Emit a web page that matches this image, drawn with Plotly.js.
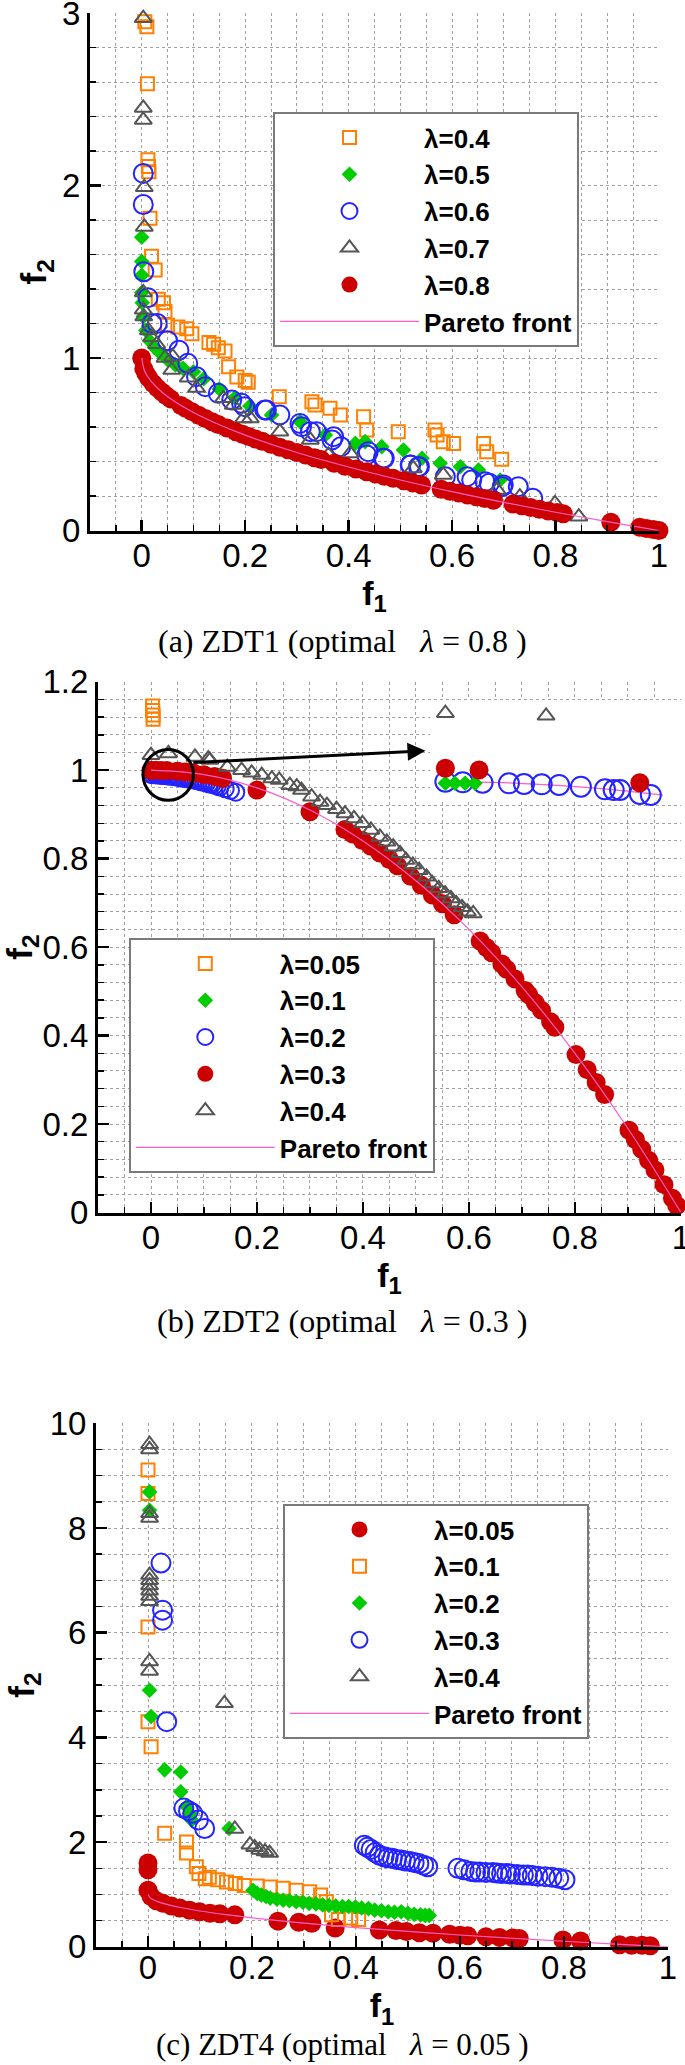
<!DOCTYPE html>
<html><head><meta charset="utf-8">
<script src="https://cdn.plot.ly/plotly-3.0.1.min.js"></script>
<style>html,body{margin:0;padding:0;background:#fff;overflow:hidden}#chart{width:685px;height:2065px}</style>
</head><body><div id="chart"></div>
<script>
// ---------- (a) ZDT1 ----------
const zdt1Labels = ["λ=0.4","λ=0.5","λ=0.6","λ=0.7","λ=0.8"];
const zdt1_l04_f1 = [0.006,0.01,0.011,0.012,0.013,0.014,0.016,0.019,0.026,0.032,0.042,0.045,0.05,0.07,0.087,0.097,0.13,0.139,0.148,0.161,0.168,0.184,0.2,0.206,0.266,0.329,0.335,0.364,0.384,0.429,0.435,0.496,0.567,0.571,0.583,0.603,0.661,0.667,0.696];
const zdt1_l04_f2 = [2.95,2.92,2.59,2.15,2.11,2.08,1.81,1.59,1.51,1.34,1.32,1.27,1.19,1.18,1.17,1.14,1.09,1.08,1.06,1.04,0.95,0.89,0.87,0.86,0.776,0.747,0.728,0.708,0.67,0.66,0.583,0.573,0.583,0.554,0.515,0.505,0.505,0.457,0.413];
const zdt1_l05_f1 = [0.0,0.0,0.0,0.0,0.001,0.003,0.008,0.015,0.025,0.035,0.05,0.065,0.08,0.1,0.12,0.15,0.18,0.209,0.251,0.306,0.355,0.413,0.432,0.464,0.506,0.542,0.577,0.616,0.651,0.693];
const zdt1_l05_f2 = [1.70,1.56,1.48,1.38,1.32,1.24,1.16,1.1,1.06,1.03,0.99,0.96,0.94,0.92,0.88,0.82,0.77,0.722,0.67,0.631,0.554,0.505,0.515,0.486,0.467,0.419,0.39,0.37,0.351,0.293];
const zdt1_l06_f1 = [0.003,0.003,0.004,0.012,0.02,0.03,0.05,0.072,0.089,0.106,0.123,0.148,0.174,0.193,0.199,0.238,0.241,0.267,0.306,0.309,0.326,0.338,0.368,0.371,0.385,0.435,0.438,0.467,0.469,0.519,0.52,0.535,0.537,0.587,0.629,0.638,0.664,0.672,0.697,0.699,0.728,0.756];
const zdt1_l06_f2 = [2.07,1.89,1.50,1.35,1.2,1.2,1.1,1.045,0.969,0.892,0.834,0.795,0.757,0.737,0.718,0.699,0.699,0.67,0.621,0.602,0.573,0.573,0.525,0.544,0.486,0.438,0.457,0.419,0.419,0.38,0.38,0.37,0.37,0.312,0.312,0.293,0.283,0.274,0.254,0.264,0.254,0.187];
const zdt1_l07_f1 = [0.003,0.003,0.003,0.005,0.005,0.003,0.003,0.004,0.013,0.019,0.029,0.045,0.058,0.06,0.09,0.106,0.158,0.177,0.197,0.21,0.267,0.326,0.361,0.403,0.525,0.583,0.687,0.731,0.799,0.845];
const zdt1_l07_f2 = [2.97,2.45,2.38,1.99,1.76,1.38,1.28,1.24,1.16,1.12,1.08,1.0,0.93,1.008,0.886,0.826,0.766,0.727,0.65,0.65,0.573,0.525,0.438,0.447,0.36,0.322,0.235,0.196,0.157,0.08];
const zdt1_l08_f1 = [0,0.004,0.008,0.0135,0.022,0.03,0.039,0.047,0.056,0.076,0.085,0.097,0.11,0.123,0.136,0.148,0.165,0.182,0.195,0.207,0.22,0.233,0.25,0.267,0.283,0.3,0.317,0.334,0.347,0.372,0.393,0.414,0.435,0.452,0.469,0.486,0.507,0.524,0.541,0.579,0.596,0.613,0.63,0.647,0.663,0.68,0.718,0.735,0.752,0.769,0.786,0.803,0.815,0.907,0.963,0.976,0.989,1.0];
const zdt1_l08_f2 = [1.0,0.937,0.911,0.884,0.852,0.827,0.803,0.783,0.763,0.724,0.708,0.689,0.668,0.649,0.631,0.615,0.594,0.573,0.558,0.545,0.531,0.517,0.5,0.483,0.468,0.452,0.437,0.422,0.411,0.39,0.373,0.357,0.34,0.328,0.315,0.303,0.288,0.276,0.264,0.239,0.228,0.217,0.206,0.196,0.186,0.175,0.153,0.143,0.133,0.123,0.113,0.104,0.097,0.048,0.019,0.012,0.006,0.0];
const zdt1_pf_f1 = [0,0.005,0.01,0.02,0.04,0.06,0.1,0.15,0.2,0.3,0.4,0.5,0.6,0.7,0.8,0.9,1.0];
const zdt1_pf_f2 = [1,0.929,0.9,0.859,0.8,0.755,0.684,0.613,0.553,0.452,0.368,0.293,0.225,0.163,0.106,0.051,0];

// ---------- (b) ZDT2 ----------
const zdt2Labels = ["λ=0.05","λ=0.1","λ=0.2","λ=0.3","λ=0.4"];
const zdt2_l005_f1 = [0.003,0.003,0.004,0.004];
const zdt2_l005_f2 = [1.145,1.135,1.125,1.115];
const zdt2_l01_f1 = [0.0,0.005,0.01,0.015];
const zdt2_l01_f2 = [0.99,0.99,0.99,0.99];
const zdt2_l02_f1 = [0,0.004,0.008,0.012,0.016,0.02,0.024,0.028,0.032,0.036,0.04,0.045,0.05,0.055,0.06,0.065,0.07,0.075,0.08,0.085,0.09,0.095,0.1,0.105,0.11,0.115,0.12,0.125,0.13,0.14,0.15,0.16];
const zdt2_l02_f2 = [0.99,0.99,0.99,0.989,0.989,0.988,0.988,0.988,0.987,0.987,0.986,0.985,0.984,0.983,0.982,0.981,0.98,0.979,0.978,0.977,0.975,0.974,0.972,0.971,0.969,0.968,0.966,0.964,0.962,0.958,0.954,0.95];
const zdt2_l03_f1 = [0.0,0.01,0.02,0.03,0.05,0.065,0.08,0.1,0.12,0.135,0.2,0.3,0.366,0.38,0.399,0.415,0.432,0.45,0.465,0.49,0.51,0.531,0.55,0.572,0.621,0.633,0.643,0.662,0.671,0.687,0.706,0.713,0.725,0.737,0.754,0.762,0.802,0.823,0.84,0.856,0.902,0.914,0.926,0.939,0.951,0.968,0.984,0.992];
const zdt2_l03_f2 = [1.0,1.0,0.9996,0.9991,0.9975,0.9958,0.9936,0.99,0.9856,0.9818,0.955,0.906,0.866,0.856,0.841,0.828,0.813,0.798,0.784,0.76,0.74,0.718,0.698,0.673,0.614,0.599,0.587,0.562,0.55,0.528,0.502,0.492,0.474,0.457,0.431,0.419,0.357,0.323,0.294,0.267,0.186,0.165,0.143,0.118,0.096,0.063,0.032,0.016];
const zdt2_l04_f1 = [0.0,0.033,0.083,0.108,0.111,0.144,0.171,0.19,0.209,0.228,0.242,0.262,0.275,0.284,0.303,0.319,0.332,0.35,0.366,0.383,0.399,0.415,0.432,0.445,0.457,0.47,0.481,0.494,0.506,0.52,0.531,0.543,0.555,0.566,0.576,0.587,0.597,0.608];
const zdt2_l04_f2 = [1.034,1.038,1.03,1.026,1.023,1.007,1.0,0.994,0.989,0.981,0.978,0.966,0.963,0.955,0.94,0.928,0.921,0.912,0.902,0.891,0.88,0.865,0.849,0.838,0.827,0.812,0.797,0.786,0.774,0.759,0.744,0.733,0.721,0.71,0.699,0.69,0.68,0.676];
const zdt2_pf_f1 = [0,0.1,0.2,0.3,0.4,0.5,0.6,0.7,0.8,0.9,1.0];
const zdt2_pf_f2 = [1,0.99,0.96,0.91,0.84,0.75,0.64,0.51,0.36,0.19,0];
// magnified inset (region circled near f1=0, f2=1)
const inset_l02_f1 = [0,0.006,0.0128,0.0219,0.0271,0.0332,0.0392,0.0467,0.055,0.058,0.0602,0.067,0.0708];
const inset_l02_f2 = [1.0,0.99975,0.99958,0.99933,0.99904,0.99892,0.99863,0.99792,0.99683,0.99654,0.99654,0.99488,0.99446];
const inset_l01_f1 = [0,0.0033,0.0068,0.0102];
const inset_l01_f2 = [0.99933,0.99933,0.99933,0.99933];
const inset_l03_f1 = [0,0.0116,0.067];
const inset_l03_f2 = [1.00558,1.00488,0.99958];
const inset_l04_f1 = [0,0.0347];
const inset_l04_f2 = [1.0285,1.0274];
const inset_pf_f1 = [0,0.02,0.04,0.06,0.075];
const inset_pf_f2 = [1.0,0.9996,0.9984,0.9964,0.9944];

// ---------- (c) ZDT4 ----------
const zdt4Labels = ["λ=0.05","λ=0.1","λ=0.2","λ=0.3","λ=0.4"];
const zdt4_l005_f1 = [0,0,0,0.006,0.016,0.029,0.045,0.061,0.08,0.099,0.119,0.138,0.167,0.25,0.29,0.315,0.36,0.445,0.477,0.497,0.522,0.548,0.58,0.6,0.615,0.65,0.676,0.702,0.714,0.798,0.832,0.907,0.93,0.95,0.966];
const zdt4_l005_f2 = [1.6,1.47,1.08,0.96,0.88,0.83,0.78,0.74,0.7,0.67,0.64,0.63,0.61,0.49,0.47,0.45,0.36,0.32,0.31,0.29,0.27,0.26,0.24,0.22,0.21,0.19,0.18,0.17,0.16,0.13,0.11,0.04,0.03,0.03,0.02];
const zdt4_l01_f1 = [0.0,0.0,0.0,0.0,0.006,0.032,0.074,0.074,0.093,0.098,0.11,0.118,0.134,0.151,0.168,0.185,0.21,0.235,0.26,0.285,0.311,0.332,0.343,0.353,0.366,0.39,0.405];
const zdt4_l01_f2 = [9.11,8.66,6.11,4.3,3.82,2.17,2.0,1.79,1.53,1.4,1.3,1.33,1.28,1.24,1.21,1.17,1.16,1.14,1.12,1.08,1.05,0.99,0.86,0.61,0.52,0.55,0.52];
const zdt4_l02_f1 = [0.003,0.003,0.003,0.006,0.032,0.063,0.063,0.074,0.08,0.084,0.156,0.202,0.21,0.218,0.227,0.235,0.248,0.26,0.272,0.285,0.298,0.31,0.323,0.336,0.348,0.361,0.374,0.386,0.399,0.411,0.424,0.436,0.449,0.462,0.474,0.487,0.5,0.512,0.524,0.533,0.541];
const zdt4_l02_f2 = [8.69,8.34,4.9,4.4,3.38,3.34,2.96,2.68,2.55,2.42,2.26,1.08,1.02,0.99,0.96,0.93,0.91,0.89,0.88,0.86,0.85,0.83,0.82,0.8,0.79,0.78,0.77,0.77,0.76,0.74,0.73,0.7,0.69,0.67,0.66,0.67,0.64,0.62,0.61,0.6,0.6];
const zdt4_l03_f1 = [0.025,0.028,0.028,0.036,0.069,0.078,0.086,0.097,0.109,0.416,0.422,0.429,0.437,0.445,0.454,0.462,0.47,0.478,0.487,0.495,0.504,0.512,0.521,0.53,0.538,0.596,0.608,0.621,0.63,0.638,0.65,0.663,0.672,0.68,0.69,0.697,0.71,0.722,0.73,0.739,0.75,0.764,0.777,0.79,0.802];
const zdt4_l03_f2 = [7.33,6.43,6.24,4.3,2.65,2.6,2.55,2.42,2.26,1.94,1.9,1.86,1.8,1.75,1.72,1.7,1.69,1.67,1.66,1.64,1.63,1.61,1.59,1.56,1.53,1.5,1.47,1.44,1.43,1.43,1.42,1.42,1.41,1.4,1.4,1.39,1.38,1.37,1.37,1.36,1.35,1.34,1.33,1.31,1.28];
const zdt4_l04_f1 = [0.003,0.003,0.003,0.003,0.003,0.003,0.003,0.003,0.003,0.003,0.003,0.003,0.147,0.167,0.196,0.205,0.215,0.225,0.234];
const zdt4_l04_f2 = [9.6,9.5,8.28,8.19,7.1,7.0,6.9,6.8,6.7,6.6,5.45,5.27,4.65,2.25,1.95,1.9,1.85,1.82,1.79];
const zdt4_pf_f1 = [0,0.005,0.01,0.02,0.04,0.06,0.1,0.15,0.2,0.3,0.4,0.5,0.6,0.7,0.8,0.9,1.0];
const zdt4_pf_f2 = [1,0.929,0.9,0.859,0.8,0.755,0.684,0.613,0.553,0.452,0.368,0.293,0.225,0.163,0.106,0.051,0];

const pfLabel = "Pareto front";
const captions = ["(a) ZDT1 (optimal\u00a0\u00a0 <i>λ</i> = 0.8 )","(b) ZDT2 (optimal\u00a0\u00a0 <i>λ</i> = 0.3 )","(c) ZDT4 (optimal\u00a0\u00a0 <i>λ</i> = 0.05 )"];

// ---------- styles ----------
const W = 685, H = 2065;
const PX = v => v / W, PY = v => 1 - v / H;
const ST = {
  orange: {symbol:'square-open', size:13, color:'#ff7f00', line:{width:2}},
  green:  {symbol:'diamond', size:12, color:'#00cc00', line:{width:0}},
  blue:   {symbol:'circle-open', size:19, color:'#2424ff', line:{width:2}},
  gray:   {symbol:'triangle-up-open', size:15, color:'#555555', line:{width:2}},
  red:    {symbol:'circle', size:19, color:'#cc0000', line:{width:0}}
};
const pfLine = {color:'#ff5cc8', width:1.2, shape:'spline'};
function pts(x, y, name, st, xa, ya, lg, show=true){
  return {type:'scatter', mode:'markers', x, y, name, marker:st, xaxis:xa, yaxis:ya, legend:lg, showlegend:show, cliponaxis:false};
}
function pf(x, y, xa, ya, lg, show=true){
  return {type:'scatter', mode:'lines', x, y, name:pfLabel, line:pfLine, xaxis:xa, yaxis:ya, legend:lg, showlegend:show};
}
const data = [
  pts(zdt1_l04_f1, zdt1_l04_f2, zdt1Labels[0], ST.orange, 'x','y','legend'),
  pts(zdt1_l05_f1, zdt1_l05_f2, zdt1Labels[1], ST.green, 'x','y','legend'),
  pts(zdt1_l06_f1, zdt1_l06_f2, zdt1Labels[2], ST.blue, 'x','y','legend'),
  pts(zdt1_l07_f1, zdt1_l07_f2, zdt1Labels[3], ST.gray, 'x','y','legend'),
  pts(zdt1_l08_f1, zdt1_l08_f2, zdt1Labels[4], ST.red, 'x','y','legend'),
  pf(zdt1_pf_f1, zdt1_pf_f2, 'x','y','legend'),

  pts(zdt2_l005_f1, zdt2_l005_f2, zdt2Labels[0], ST.orange, 'x2','y2','legend2'),
  pts(zdt2_l01_f1, zdt2_l01_f2, zdt2Labels[1], ST.green, 'x2','y2','legend2'),
  pts(zdt2_l02_f1, zdt2_l02_f2, zdt2Labels[2], Object.assign({}, ST.blue, {size:17}), 'x2','y2','legend2'),
  pts(zdt2_l03_f1, zdt2_l03_f2, zdt2Labels[3], ST.red, 'x2','y2','legend2'),
  pts(zdt2_l04_f1, zdt2_l04_f2, zdt2Labels[4], ST.gray, 'x2','y2','legend2'),
  pf(zdt2_pf_f1, zdt2_pf_f2, 'x2','y2','legend2'),

  pf(inset_pf_f1, inset_pf_f2, 'x4','y4','legend2', false),
  pts(inset_l02_f1, inset_l02_f2, 'inset λ=0.2', Object.assign({}, ST.blue, {size:20}), 'x4','y4','legend2', false),
  pts(inset_l01_f1, inset_l01_f2, 'inset λ=0.1', ST.green, 'x4','y4','legend2', false),
  pts(inset_l03_f1, inset_l03_f2, 'inset λ=0.3', ST.red, 'x4','y4','legend2', false),
  pts(inset_l04_f1, inset_l04_f2, 'inset λ=0.4', ST.gray, 'x4','y4','legend2', false),

  pts(zdt4_l005_f1, zdt4_l005_f2, zdt4Labels[0], ST.red, 'x3','y3','legend3'),
  pts(zdt4_l01_f1, zdt4_l01_f2, zdt4Labels[1], ST.orange, 'x3','y3','legend3'),
  pts(zdt4_l02_f1, zdt4_l02_f2, zdt4Labels[2], ST.green, 'x3','y3','legend3'),
  pts(zdt4_l03_f1, zdt4_l03_f2, zdt4Labels[3], ST.blue, 'x3','y3','legend3'),
  pts(zdt4_l04_f1, zdt4_l04_f2, zdt4Labels[4], ST.gray, 'x3','y3','legend3'),
  pf(zdt4_pf_f1, zdt4_pf_f2, 'x3','y3','legend3')
];

const FONT = 'Liberation Sans, Arial, sans-serif';
const common = {
  showline:true, linecolor:'black', linewidth:3, mirror:false,
  ticks:'inside', ticklen:11, tickwidth:2.5, tickcolor:'black',
  showgrid:true, gridcolor:'#a0a0a0', griddash:'dot', gridwidth:1,
  zeroline:false, fixedrange:true, ticklabeloverflow:'allow',
  tickfont:{family:FONT, size:33, color:'black'}
};
function minor(dt){ return {dtick:dt, ticks:'inside', ticklen:6, tickwidth:1.5, tickcolor:'black', showgrid:true, gridcolor:'#a0a0a0', griddash:'dot', gridwidth:1}; }
function xax(l, r, anchor, so){
  return Object.assign({}, common, {domain:[PX(l), PX(r)], anchor, range:[-0.1,1.0001], dtick:0.2, tick0:0, minor:minor(0.05),
    ticklabelstandoff:so,
    title:{text:'<b>f<sub>1</sub></b>', font:{family:FONT, size:34, color:'black'}, standoff:0}});
}
function yax(t, b, anchor, rng, dt, mdt){
  return Object.assign({}, common, {domain:[PY(b), PY(t)], anchor, range:rng, dtick:dt, tick0:0, minor:minor(mdt),
    title:{text:'<b>f<sub>2</sub></b>', font:{family:FONT, size:35, color:'black'}, standoff:5}});
}
function leg(l, t){
  return {x:PX(l), y:PY(t), xanchor:'left', yanchor:'top', bgcolor:'white', bordercolor:'#7a7a7a', borderwidth:2,
    font:{family:FONT, size:26, color:'black', weight:'bold'}, itemwidth:139, tracegroupgap:0, traceorder:'normal'};
}
const capFont = {family:'Liberation Serif, Times New Roman, serif', size:32, color:'black'};

const layout = {
  width:W, height:H, margin:{l:0,r:0,t:0,b:0},
  paper_bgcolor:'white', plot_bgcolor:'white', showlegend:true,
  xaxis: xax(90, 659, 'y', -6),
  yaxis: yax(13, 530.5, 'x', [0,3.0001], 1, 0.2),
  xaxis2: xax(98, 681, 'y2', -6),
  yaxis2: yax(681.7, 1212.5, 'x2', [0,1.2001], 0.2, 0.04),
  xaxis3: xax(96, 668, 'y3', -10),
  yaxis3: yax(1423.3, 1946.8, 'x3', [0,10.0001], 2, 0.5),
  xaxis4: {domain:[PX(430), PX(681)], anchor:'y4', range:[-0.0053, 0.0812], visible:false, fixedrange:true},
  yaxis4: {domain:[PY(800), PY(700)], anchor:'x4', range:[0.99238, 1.034], visible:false, fixedrange:true},
  legend: leg(273, 112),
  legend2: leg(128.8, 938),
  legend3: leg(283, 1504),
  shapes: [
    {type:'circle', xref:'x2', yref:'y2', x0:-0.015, x1:0.08, y0:0.932, y1:1.047, line:{color:'black', width:3}}
  ],
  annotations: [
    {xref:'x2', yref:'y2', axref:'x2', ayref:'y2', x:0.518, y:1.044, ax:0.077, ay:1.017, text:'', showarrow:true,
     arrowhead:2, arrowsize:1.2, arrowwidth:3, arrowcolor:'black', standoff:0, startstandoff:0},
    {xref:'paper', yref:'paper', x:0.5, y:PY(641), xanchor:'center', yanchor:'middle', showarrow:false, text:captions[0], font:capFont},
    {xref:'paper', yref:'paper', x:0.5, y:PY(1321), xanchor:'center', yanchor:'middle', showarrow:false, text:captions[1], font:capFont},
    {xref:'paper', yref:'paper', x:0.5, y:PY(2044), xanchor:'center', yanchor:'middle', showarrow:false, text:captions[2], font:Object.assign({}, capFont, {size:31})}
  ]
};
Plotly.newPlot('chart', data, layout, {staticPlot:true, displayModeBar:false});
</script></body></html>
